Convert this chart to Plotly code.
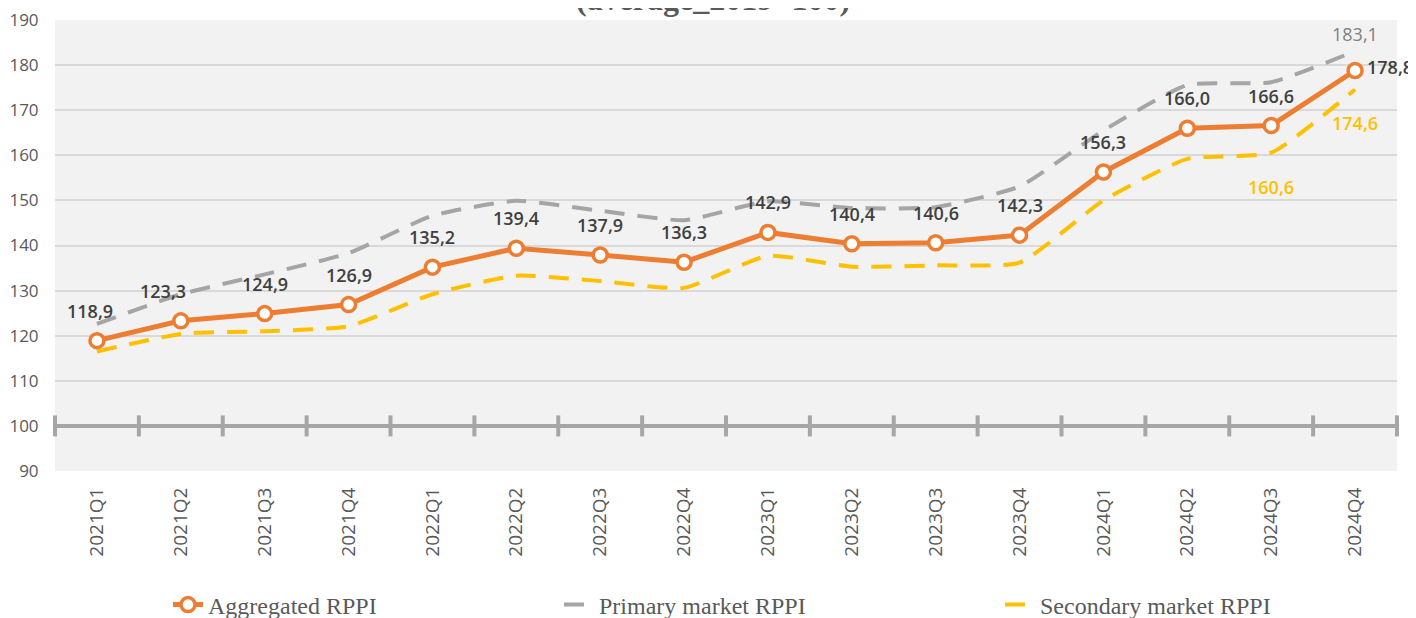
import plotly.graph_objects as go

categories = ["2021Q1", "2021Q2", "2021Q3", "2021Q4", "2022Q1", "2022Q2", "2022Q3", "2022Q4",
              "2023Q1", "2023Q2", "2023Q3", "2023Q4", "2024Q1", "2024Q2", "2024Q3", "2024Q4"]
aggregated = [118.9, 123.3, 124.9, 126.9, 135.2, 139.4, 137.9, 136.3,
              142.9, 140.4, 140.6, 142.3, 156.3, 166.0, 166.6, 178.8]
primary = [122.6, 129.2, 133.6, 138.3, 146.6, 149.9, 147.7, 145.6,
           149.8, 148.3, 148.5, 153.1, 165.5, 175.6, 176.2, 183.1]
secondary = [116.5, 120.4, 121.0, 122.1, 129.2, 133.3, 132.1, 130.6,
             137.7, 135.3, 135.6, 136.2, 150.0, 159.2, 160.6, 174.6]
y_ticks = [90, 100, 110, 120, 130, 140, 150, 160, 170, 180, 190]
base_value = 100
title_text = "(average_2019=100)"

GRAY_TXT = "#595959"
DARK_TXT = "#404040"
ORANGE = "#ed7d31"
GRAY = "#a5a5a5"
YELLOW = "#ffc000"

W, H = 1416, 618
ML, MR, MT, MB = 47, 27, 12, 155

x_idx = list(range(len(categories)))


def fmt(v):
    return f"{v:.1f}".replace(".", ",")


fig = go.Figure()

# baseline at 100 with category-boundary ticks
bounds = [i - 0.5 for i in range(len(categories) + 1)]
fig.add_trace(go.Scatter(
    x=bounds, y=[base_value] * len(bounds), mode="lines+markers",
    line=dict(color="#a6a6a6", width=4),
    marker=dict(symbol="line-ns", size=15, line=dict(color="#a6a6a6", width=4)),
    showlegend=False, hoverinfo="skip", cliponaxis=False,
))

fig.add_trace(go.Scatter(
    x=x_idx, y=secondary, mode="lines", name="Secondary market RPPI",
    line=dict(color=YELLOW, width=4, dash="20px,13px", shape="spline", smoothing=0.5),
    legend="legend3",
))
fig.add_trace(go.Scatter(
    x=x_idx, y=primary, mode="lines", name="Primary market RPPI",
    line=dict(color=GRAY, width=4, dash="20px,13px", shape="spline", smoothing=0.5),
    legend="legend2",
))
fig.add_trace(go.Scatter(
    x=x_idx, y=aggregated, mode="lines+markers", name="Aggregated RPPI",
    line=dict(color=ORANGE, width=5),
    marker=dict(symbol="circle", size=14, color="white", line=dict(color=ORANGE, width=3.5)),
    legend="legend", cliponaxis=False,
))

annotations = []
label_xshift = {0: -7, 1: -18}
label_font = dict(family="Open Sans, sans-serif", size=18, color=DARK_TXT, weight=600)
last = len(categories) - 1
for i, v in enumerate(aggregated):
    if i == last:
        annotations.append(dict(x=i, y=v, text=fmt(v), showarrow=False, xanchor="left",
                                xshift=10, yshift=4, font=label_font))
    else:
        annotations.append(dict(x=i, y=v, text=fmt(v), showarrow=False,
                                xshift=label_xshift.get(i, 0), yshift=30, font=label_font))

annotations.append(dict(x=last, y=primary[last], text=fmt(primary[last]), showarrow=False,
                        yshift=17, font=dict(family="Open Sans, sans-serif", size=18, color="#808080")))
for i in (last - 1, last):
    annotations.append(dict(x=i, y=secondary[i], text=fmt(secondary[i]), showarrow=False,
                            yshift=-34, font=dict(family="Open Sans, sans-serif", size=18,
                                                  color=YELLOW, weight=600)))

plot_w = W - ML - MR
annotations.append(dict(xref="paper", yref="paper", x=(705 - ML) / plot_w, y=1.0,
                        yshift=21, yanchor="middle", text=title_text, showarrow=False,
                        font=dict(family="Liberation Serif, serif", size=32, color=GRAY_TXT, weight="bold")))

legend_common = dict(orientation="h", xref="container", yref="container",
                     y=21 / H, xanchor="left", yanchor="middle",
                     font=dict(family="Liberation Serif, serif", size=24, color=GRAY_TXT),
                     bgcolor="rgba(0,0,0,0)")

fig.update_layout(
    width=W, height=H,
    margin=dict(l=ML, r=MR, t=MT, b=MB, autoexpand=False),
    paper_bgcolor="white", plot_bgcolor="#f2f2f2",
    font=dict(family="Open Sans, sans-serif", color=GRAY_TXT),
    annotations=annotations,
    showlegend=True,
    legend=dict(x=160 / W, **legend_common),
    legend2=dict(x=551 / W, **legend_common),
    legend3=dict(x=992 / W, **legend_common),
    xaxis=dict(range=[-0.5, len(categories) - 0.5], tickvals=x_idx, ticktext=categories,
               tickangle=-90, showgrid=False, zeroline=False, showline=False, automargin=False,
               ticks="outside", ticklen=8, tickcolor="rgba(0,0,0,0)",
               tickfont=dict(size=19, color=GRAY_TXT)),
    yaxis=dict(range=[90, 190], tickvals=y_ticks, showgrid=True, gridcolor="#d9d9d9",
               gridwidth=1.5, zeroline=False, showline=False, automargin=False,
               ticks="outside", ticklen=12, tickcolor="rgba(0,0,0,0)",
               ticklabeloverflow="allow",
               tickfont=dict(size=17, color=GRAY_TXT)),
)

fig.write_html("out.html")
